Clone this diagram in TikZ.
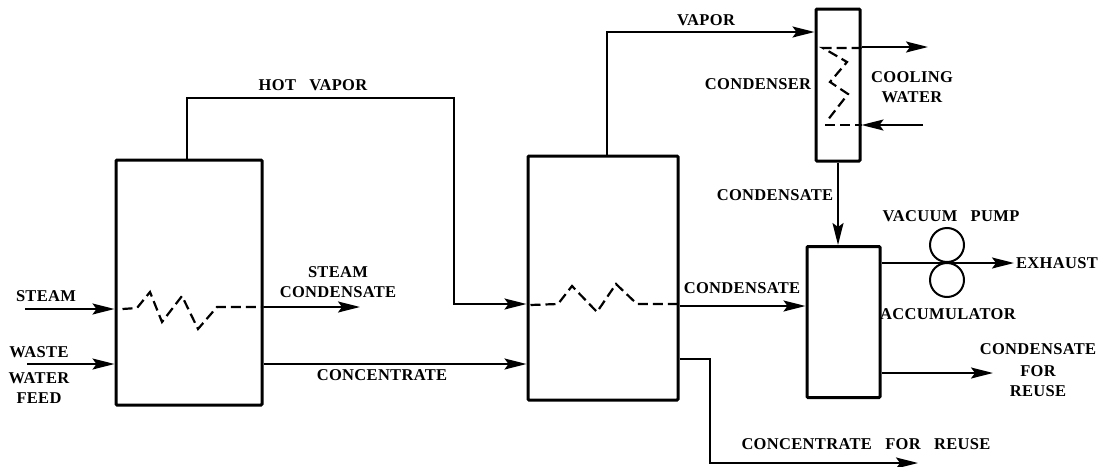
\documentclass[tikz,border=0pt]{standalone}
\usepackage{fontspec}
\setmainfont[LetterSpace=2,WordSpace=3]{Liberation Serif}
\usetikzlibrary{arrows.meta,positioning}
\tikzset{
  vessel/.style={draw,line width=3pt,rounded corners=1pt,inner sep=0pt},
  flow/.style={line width=2pt},
  coil/.style={line width=2.2pt,dash pattern=on 10pt off 5pt},
  pump/.style={draw,circle,line width=2pt,minimum size=34pt,inner sep=0pt},
  tag/.style={font=\fontsize{16.5}{20}\selectfont\bfseries,align=center,inner sep=0pt},
}
\begin{document}
\begin{tikzpicture}[x=1pt,y=-1pt,>={Stealth[length=22pt,width=11pt,inset=4pt]}]
\useasboundingbox (0,0) rectangle (1103,466);
% vessels
\node[vessel,minimum width=146pt,minimum height=245pt] (evapA) at (189,282.5) {};
\node[vessel,minimum width=150pt,minimum height=244pt] (evapB) at (603,278) {};
\node[vessel,minimum width=44pt,minimum height=152pt] (cond) at (838,85) {};
\node[vessel,minimum width=73pt,minimum height=151pt] (accum) at (843.5,322) {};
% free ends
\coordinate (steamin) at (25,309);
\coordinate (wastein) at (27,364);
\coordinate (steamout) at (360,307);
\coordinate (exhaustend) at (1014,263);
\coordinate (reuseend) at (993,373);
\coordinate (coolout) at (928,47);
\coordinate (coolin) at (923,125);
\coordinate (concend) at (918,463);
% pump
\node[pump] (pumpA) at (947,245) {};
\node[pump] (pumpB) at (947,280) {};
% flows
\draw[flow,->] (steamin) -- (steamin -| evapA.west);
\draw[flow,->] (wastein) -- (wastein -| evapA.west);
\draw[flow,->] (steamout -| evapA.east) -- (steamout);
\draw[flow,->] (evapA.east |- wastein) -- (evapB.west |- wastein);
\draw[flow,->] (evapA.north -| 187,0) |- (454,98) |- (evapB.west |- 0,304);
\draw[flow,->] (evapB.north -| 607,0) |- (cond.west |- 0,32);
\draw[flow,->] (evapB.east |- 0,306) -- (accum.west |- 0,306);
\draw[flow,->] (cond.south) -- (cond.south |- accum.north);
\draw[flow,->] (accum.east |- exhaustend) -- (exhaustend);
\draw[flow,->] (accum.east |- reuseend) -- (reuseend);
\draw[flow,->] (cond.east |- coolout) -- (coolout);
\draw[flow,->] (coolin) -- (cond.east |- coolin);
\draw[flow,->] (evapB.east |- 0,359) -| (710,463) -- (concend);
% coils
\draw[coil] (evapA.west |- 0,309) ++(8,0) -- (137,308) -- (150,292) -- (162,322) -- (182,296) -- (198,329) -- (217,307) -- (evapA.east |- 0,307);
\draw[coil] (evapB.west |- 0,305) ++(4,0) -- (558,304) -- (572,286) -- (597,312) -- (616,284) -- (637,304) -- (evapB.east |- 0,304);
\draw[coil] (cond.east |- 0,48) -- (823,48) -- (847,62) -- (830,82) -- (848,94) -- (827,121);
\draw[coil] (825,125) -- (cond.east |- 0,125);
% labels
\node[tag] (hotvapor) at (313,85) {HOT VAPOR};
\node[tag] (vapor) at (706,20) {VAPOR};
\node[tag] (condenser) at (758,84) {CONDENSER};
\node[tag] (coolwater) at (912,87) {COOLING\\WATER};
\node[tag] (condensateA) at (775,195) {CONDENSATE};
\node[tag] (vacuum) at (951,216) {VACUUM PUMP};
\node[tag] (exhaust) at (1057,263) {EXHAUST};
\node[tag] (accumtag) at (948,314) {ACCUMULATOR};
\node[tag] (condensateB) at (742,288) {CONDENSATE};
\node[tag] (reusetag) at (1038,370) {CONDENSATE\\[2pt]FOR\\REUSE};
\node[tag] (conctag) at (866,444) {CONCENTRATE FOR REUSE};
\node[tag] (steam) at (46,296) {STEAM};
\node[tag] (waste) at (39,375) {WASTE\\[6pt]WATER\\FEED};
\node[tag] (steamcond) at (338,282) {STEAM\\CONDENSATE};
\node[tag] (concentrate) at (382,375) {CONCENTRATE};
\end{tikzpicture}
\end{document}
